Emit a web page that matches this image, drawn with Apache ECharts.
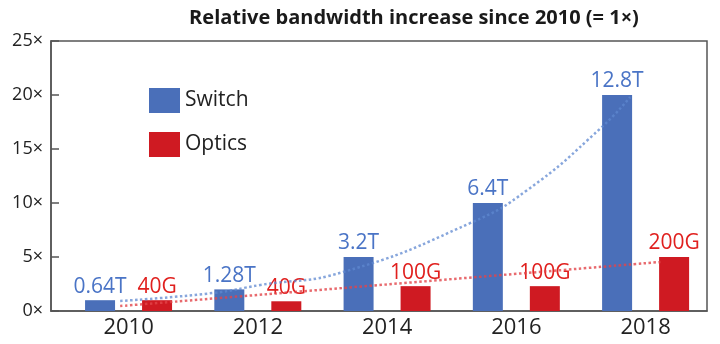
<!DOCTYPE html>
<html>
<head>
<meta charset="utf-8">
<script src="https://cdn.jsdelivr.net/npm/echarts@6/dist/echarts.min.js"></script>
<style>html,body{margin:0;padding:0;background:#fff;}#c{width:720px;height:344px;}</style>
</head>
<body>
<div id="c"></div>
<script>
// ---- data ----
const years = [2010, 2012, 2014, 2016, 2018];
const switchVals = [1, 2, 5, 10, 20];
const opticsVals = [1, 0.9, 2.3, 2.3, 5];
const switchLabels = ['0.64T', '1.28T', '3.2T', '6.4T', '12.8T'];
const opticsLabels = ['40G', '40G', '100G', '100G', '200G'];
const yTicks = [0, 5, 10, 15, 20, 25];
// dotted trend curves: [year, value]
const switchTrend = [[2009.87, 0.93], [2011.31, 1.67], [2012.04, 2.41], [2013.32, 3.61], [2015.29, 8.15], [2016.17, 11.2], [2017.3, 16.9], [2017.76, 19.8]];
const opticsTrend = [[2009.87, 0.46], [2013.32, 2.13], [2018.23, 4.54]];

const FONT = '"Open Sans", "Noto Sans", sans-serif';
const chart = echarts.init(document.getElementById('c'), null, {renderer: 'canvas'});
chart.setOption({
  animation: false,
  backgroundColor: '#fff',
  title: {
    text: 'Relative bandwidth increase since 2010 (= 1×)',
    left: 409, top: 3, textAlign: 'center',
    textStyle: {fontFamily: FONT, fontWeight: 'bold', fontSize: 20, color: '#1a1a1a'}
  },
  legend: {
    data: ['Switch', 'Optics'],
    orient: 'vertical', left: 144, top: 83,
    itemWidth: 31, itemHeight: 25, itemGap: 19,
    icon: 'rect',
    textStyle: {fontFamily: FONT, fontSize: 21, color: '#222'}
  },
  grid: {left: 51, right: 13, top: 41, bottom: 33, show: true, borderColor: '#555', borderWidth: 1.5, backgroundColor: 'transparent'},
  xAxis: {
    type: 'value', min: 2008.8, max: 2018.95,
    splitLine: {show: false},
    axisLine: {show: true, lineStyle: {color: '#555', width: 1.5}},
    axisTick: {show: false},
    axisLabel: {customValues: years, formatter: v => String(v), fontFamily: FONT, fontSize: 22, color: '#222', margin: 6}
  },
  yAxis: {
    type: 'value', min: 0, max: 25, interval: 5,
    splitLine: {show: false},
    axisLine: {show: true, lineStyle: {color: '#555', width: 1.5}},
    axisTick: {show: true, inside: true, length: 8, lineStyle: {color: '#555', width: 1.5}},
    axisLabel: {formatter: v => v + '×', fontFamily: FONT, fontSize: 18, color: '#222', margin: 8}
  },
  series: [
    {
      name: 'Switch', type: 'bar', barWidth: 30, barGap: '90%',
      data: years.map((y, i) => [y, switchVals[i]]),
      itemStyle: {color: '#4a6fb9'},
      label: {show: true, position: 'top', distance: 3, formatter: p => switchLabels[p.dataIndex],
        fontFamily: FONT, fontSize: 21, color: '#4a74c6'}
    },
    {
      name: 'Optics', type: 'bar', barWidth: 30, barGap: '90%',
      data: years.map((y, i) => [y, opticsVals[i]]),
      itemStyle: {color: '#cf1a22'},
      label: {show: true, position: 'top', distance: 3, formatter: p => opticsLabels[p.dataIndex],
        fontFamily: FONT, fontSize: 21, color: '#e0201e'}
    },
    {
      name: 'SwitchTrend', type: 'line', smooth: true, symbol: 'none', z: 5,
      data: switchTrend,
      lineStyle: {type: 'dotted', width: 2.5, color: '#5f88d0', opacity: 0.75}
    },
    {
      name: 'OpticsTrend', type: 'line', smooth: true, symbol: 'none', z: 5,
      data: opticsTrend,
      lineStyle: {type: 'dotted', width: 2.5, color: '#e2454a', opacity: 0.8}
    }
  ]
});
</script>
</body>
</html>
